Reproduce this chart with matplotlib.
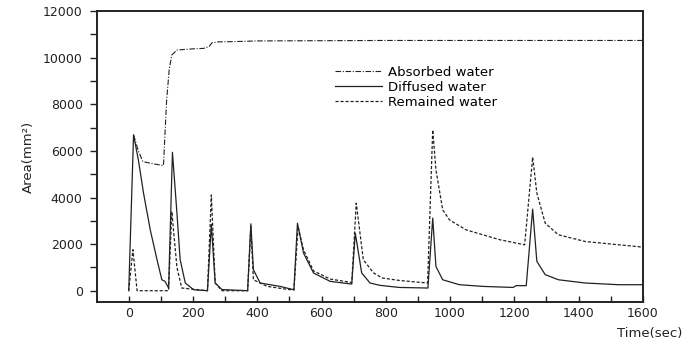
import numpy as np
import matplotlib.pyplot as plt

## dados
t_abs = [15, 30, 44, 75, 108, 118, 126, 134, 150, 200, 233, 250, 259, 280, 326, 400, 600, 800, 1000, 1200, 1400, 1600]
absorbed = [6690, 6000, 5540, 5450, 5370, 8190, 9500, 10115, 10330, 10380, 10400, 10480, 10640, 10680, 10690, 10720, 10730, 10740, 10740, 10740, 10740, 10740]

t_dif = [0, 15, 30, 46, 67, 88, 103, 113, 124, 136, 150, 160, 176, 202, 245, 257, 269, 290, 370,
         380, 388, 409, 471, 514, 525, 544, 575, 627, 694, 705, 725, 751, 782, 842, 931, 946, 956,
         977, 1029, 1102, 1196, 1206, 1237, 1257, 1270, 1296, 1337, 1421, 1525, 1600]
diffused = [0, 6690, 5610, 4190, 2610, 1330, 470, 400, 115, 5940, 3330, 1330, 330, 40, 0, 2850, 330, 50, 0,
            2870, 900, 330, 185, 40, 2900, 1615, 760, 400, 285, 2470, 760, 330, 230, 140, 115, 3115, 1040,
            470, 257, 185, 140, 220, 215, 3500, 1260, 690, 470, 330, 257, 257]

t_rem = [0, 13, 26, 124, 134, 150, 165, 245, 257, 269, 290, 370, 380, 388, 430, 492, 514, 527, 544, 575,
         627, 694, 708, 730, 762, 789, 842, 930, 946, 956, 977, 998, 1050, 1102, 1154, 1232, 1257, 1270,
         1296, 1337, 1421, 1525, 1600]
remained = [0, 1760, 0, 0, 3400, 1000, 115, 0, 4110, 330, 0, 0, 2750, 470, 190, 60, 30, 2750, 1750, 850,
            500, 350, 3760, 1330, 760, 545, 440, 330, 6900, 5190, 3470, 3040, 2610, 2400, 2190, 1970, 5730, 4190,
            2900, 2400, 2110, 1970, 1870]

cor = '#222222'

fig = plt.figure(figsize=(6.95, 3.47), dpi=100)
ax = fig.add_axes([0.139, 0.130, 0.786, 0.838])

ax.plot(t_abs, absorbed, color=cor, lw=0.8, linestyle=(0, (5, 1.5, 1, 1.5)), label='Absorbed water')
ax.plot(t_dif, diffused, color=cor, lw=0.9, linestyle='-', label='Diffused water')
ax.plot(t_rem, remained, color=cor, lw=0.9, linestyle=(0, (2.5, 1.5)), label='Remained water')

ax.set_xlim(-100, 1600)
ax.set_ylim(-480, 12000)
ax.set_xticks(np.arange(0, 1601, 200))
ax.set_xticks(np.arange(0, 1601, 100), minor=True)
ax.set_yticks(np.arange(0, 12001, 2000))
ax.set_yticks(np.arange(0, 12001, 1000), minor=True)
ax.tick_params(axis='x', which='both', direction='in', length=4, width=1, labelsize=9, colors=cor, pad=4)
ax.tick_params(axis='y', which='both', direction='out', length=5, width=1, labelsize=9, colors=cor, pad=5)
for s in ax.spines.values():
    s.set_linewidth(1.4)
    s.set_color(cor)

ax.set_ylabel('Area(mm²)', fontsize=9.5, color=cor, labelpad=6)
fig.text(0.982, 0.02, 'Time(sec)', fontsize=9.5, color=cor, ha='right', va='bottom')

ax.legend(loc='upper left', bbox_to_anchor=(0.424, 0.835), frameon=False, fontsize=9.5,
          handlelength=3.6, handletextpad=0.4, labelspacing=0.15, borderpad=0)

plt.savefig('out.png', dpi=100)
